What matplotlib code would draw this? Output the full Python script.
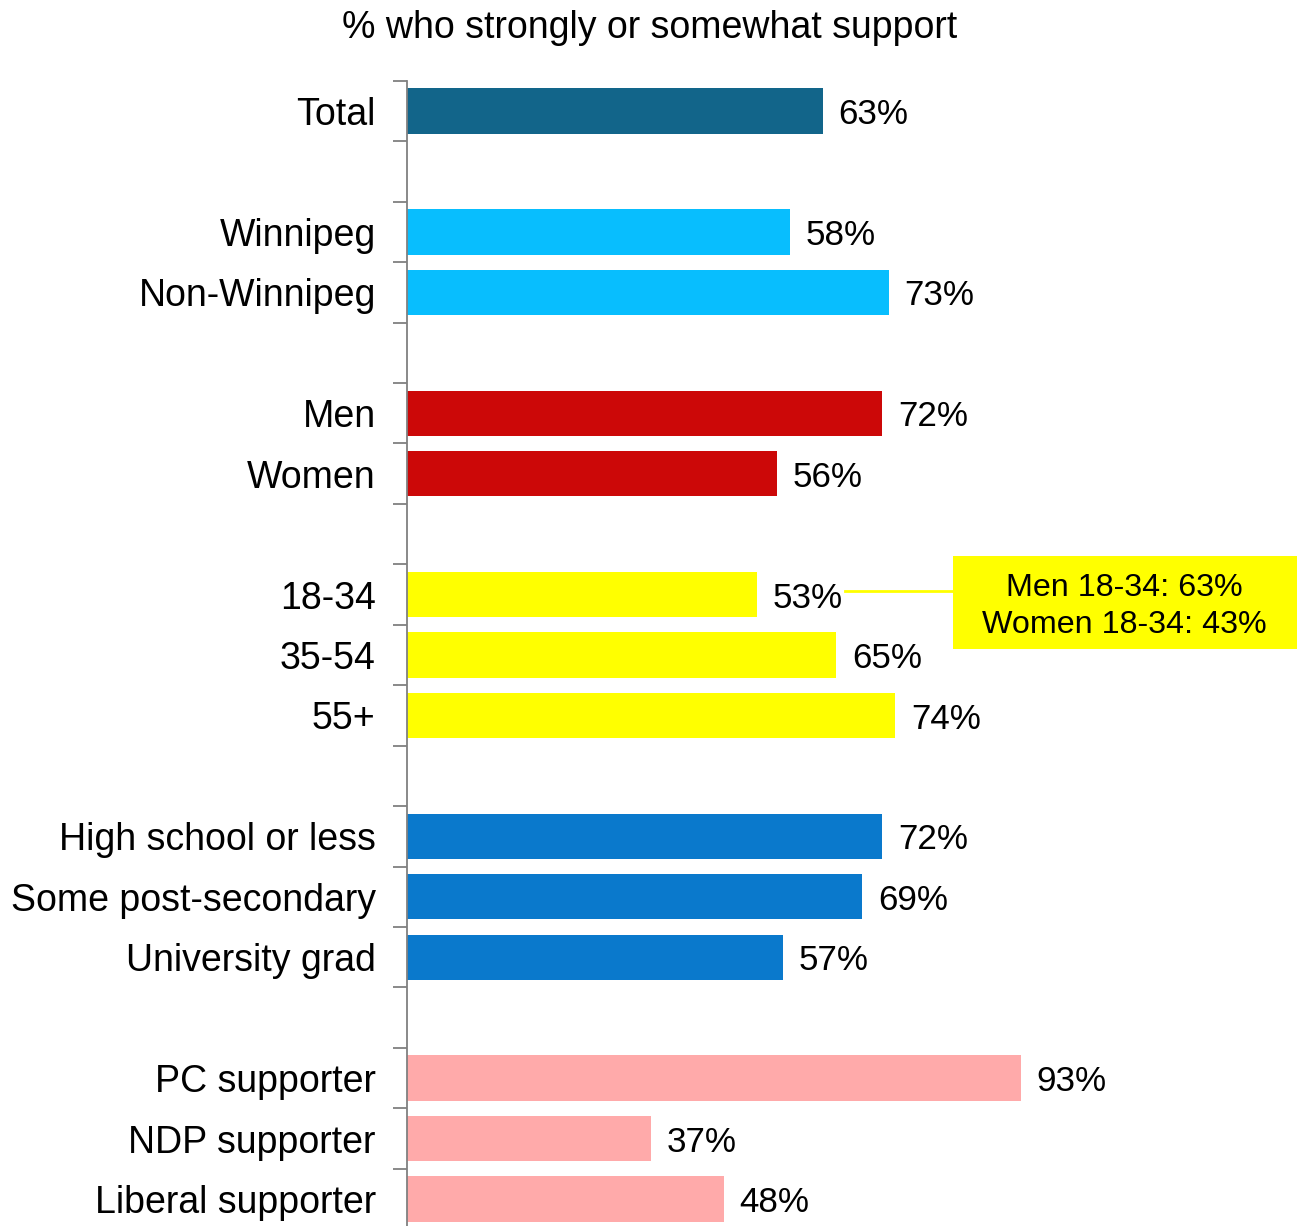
import matplotlib
matplotlib.use("Agg")
import matplotlib.pyplot as plt
from matplotlib.patches import Rectangle
import numpy as np

plt.rcParams['font.family'] = ['Liberation Sans', 'DejaVu Sans']

# rows top to bottom, None = spacer row between groups
labels = ["Total", None,
          "Winnipeg", "Non-Winnipeg", None,
          "Men", "Women", None,
          "18-34", "35-54", "55+", None,
          "High school or less", "Some post-secondary", "University grad", None,
          "PC supporter", "NDP supporter", "Liberal supporter"]
values = [63, None,
          58, 73, None,
          72, 56, None,
          53, 65, 74, None,
          72, 69, 57, None,
          93, 37, 48]
colors = ["#12658A", None,
          "#08BEFE", "#08BEFE", None,
          "#CC0808", "#CC0808", None,
          "#FFFF00", "#FFFF00", "#FFFF00", None,
          "#0A79CC", "#0A79CC", "#0A79CC", None,
          "#FFAAAA", "#FFAAAA", "#FFAAAA"]

note_text = "Men 18-34: 63%\nWomen 18-34: 43%"
note_row = labels.index("18-34")

W, H = 1298, 1226
fig = plt.figure(figsize=(W / 100, H / 100), dpi=100)
ax = fig.add_axes([407 / W, -0.0026, 660 / W, 0.9367])

n = len(labels)
ypos = np.arange(n)
for y, v, c in zip(ypos, values, colors):
    if v is None:
        continue
    ax.barh(y, v, height=0.75, color=c, edgecolor="none")
    ax.text(v + 2.4, y + 0.06, f"{v}%", va="center", ha="left", fontsize=25.2, color="black")

ax.set_xlim(0, 100)
ax.set_ylim(n - 0.5, -0.5)

ax.set_yticks(ypos)
ax.set_yticklabels([l if l else "" for l in labels], fontsize=27)
ax.set_yticks(np.arange(-0.5, n, 1), minor=True)
ax.tick_params(axis="y", which="major", length=0, pad=22.5)
ax.tick_params(axis="y", which="minor", length=10, width=1.3, color="#808080")
ax.set_xticks([])
for s in ["top", "right", "bottom"]:
    ax.spines[s].set_visible(False)
ax.spines["left"].set_color("#808080")
ax.spines["left"].set_linewidth(1.3)

# callout for 18-34
ax.plot([66.4, 82.7], [note_row - 0.06, note_row - 0.06], color="#FFFF00", lw=2, clip_on=False)
ax.add_patch(Rectangle((82.7, note_row - 0.64), 52.1, 1.54, facecolor="#FFFF00",
                       edgecolor="none", clip_on=False))
ax.text(108.75, note_row + 0.2, note_text, ha="center", va="center", fontsize=23.2,
        linespacing=1.33, clip_on=False)

fig.text(650 / W, 1 - 28 / H, "% who strongly or somewhat support", ha="center", va="center",
         fontsize=27)

fig.savefig("out.png", dpi=100)
